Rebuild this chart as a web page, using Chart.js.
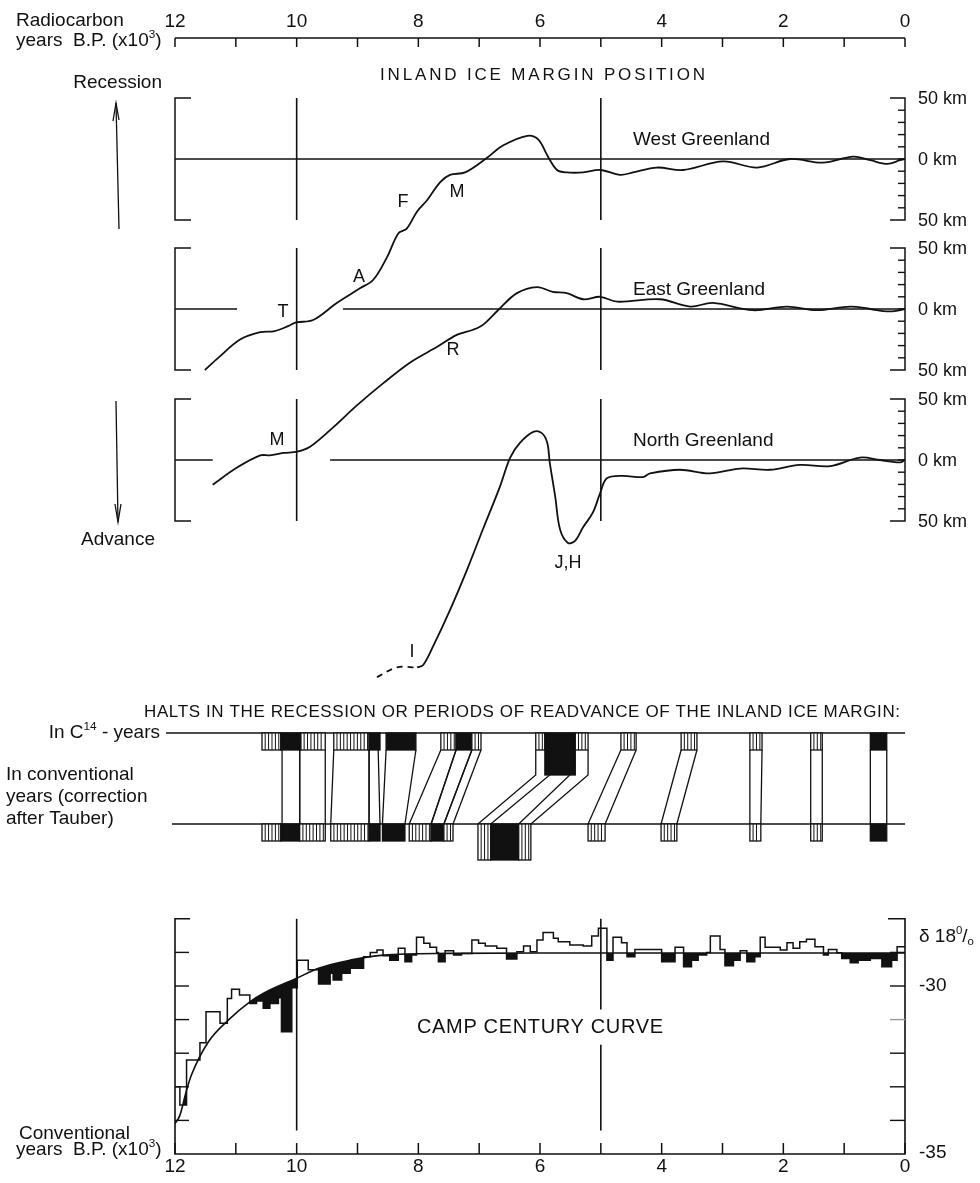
<!DOCTYPE html>
<html>
<head>
<meta charset="utf-8">
<script src="https://cdn.jsdelivr.net/npm/chart.js@4.4.1/dist/chart.umd.min.js"></script>
<style>
  html, body { margin: 0; padding: 0; background: #fff; }
  canvas { display: block; }
</style>
</head>
<body>
<canvas id="fig" width="980" height="1183"></canvas>
<script>
// ---------- data (years B.P. x1000) ----------
const yearTicks = [12, 10, 8, 6, 4, 2, 0];
const markerYears = [10, 5];

// inland ice margin position, km from present margin (+ = recession)
const westYears = [11.51, 11.29, 10.93, 10.60, 10.36, 10.14, 10.01, 9.73, 9.34, 8.96, 8.74, 8.51, 8.33, 8.19, 8.02, 7.86, 7.64, 7.48, 7.23, 6.87, 6.61, 6.21, 6.03, 5.87, 5.72, 5.56, 5.29, 5.01, 4.68, 4.47, 4.08, 3.65, 2.99, 2.43, 1.89, 1.35, 0.85, 0.57, 0.29, 0.08, 0.0];
const westKm = [-173, -163, -148, -142, -141, -137, -134, -132, -118, -106, -99, -80, -61, -57, -43, -34, -19, -13, -11, 1, 11, 19, 16, 2, -9, -11, -11, -9, -13, -11, -7, -9, -2, -7, 0, -3, 2, -1, -4, -1, 0];

const eastYears = [11.38, 10.98, 10.60, 10.44, 10.22, 9.99, 9.78, 9.40, 9.01, 8.58, 8.14, 7.69, 7.36, 7.10, 6.94, 6.69, 6.38, 6.05, 5.79, 5.56, 5.29, 5.01, 4.73, 4.03, 3.53, 3.16, 2.50, 1.94, 1.45, 0.90, 0.57, 0.29, 0.08, 0.0];
const eastKm = [-144, -130, -120, -120, -118, -117, -113, -97, -79, -61, -44, -31, -21, -17, -13, -1, 13, 18, 14, 13, 8, 10, 6, 8, 2, 5, -1, 2, -1, 2, 0, -2, -1, 0];

const northDashYears = [8.68, 8.35, 8.02];
const northDashKm = [-178, -170, -170];
const northYears = [8.02, 7.92, 7.76, 7.48, 7.20, 6.94, 6.66, 6.49, 6.33, 6.11, 5.97, 5.88, 5.84, 5.75, 5.67, 5.54, 5.42, 5.29, 5.13, 5.01, 4.90, 4.64, 4.31, 4.19, 3.70, 3.21, 2.71, 2.22, 1.73, 1.23, 0.74, 0.41, 0.08, 0.0];
const northKm = [-170, -168, -153, -123, -90, -57, -22, 2, 14, 23, 22, 14, -2, -30, -57, -68, -66, -55, -43, -27, -15, -13, -14, -11, -8, -11, -7, -8, -4, -5, 2, 0, -2, 0];

// zero lines of each panel (drawn pieces, in years)
const westZeroSegs = [[12, 0]];
const eastZeroSegs = [[12, 10.98], [9.24, 0]];
const northZeroSegs = [[12, 11.38], [9.45, 0]];

// halts: [from, to, kind]  h = hatched, b = black, capital = tall box
const c14Boxes = [
  [10.57, 10.26, 'h'], [10.26, 9.93, 'b'], [9.93, 9.53, 'h'],
  [9.39, 8.81, 'h'], [8.81, 8.63, 'b'],
  [8.53, 8.04, 'b'],
  [7.63, 7.38, 'h'], [7.38, 7.12, 'b'], [7.12, 6.97, 'h'],
  [6.07, 5.92, 'h'], [5.92, 5.42, 'B'], [5.42, 5.21, 'h'],
  [4.67, 4.42, 'h'], [3.68, 3.42, 'h'], [2.55, 2.35, 'h'], [1.55, 1.36, 'h'],
  [0.57, 0.30, 'b']
];
const convBoxes = [
  [10.57, 10.26, 'h'], [10.26, 9.95, 'b'], [9.95, 9.53, 'h'],
  [9.44, 8.81, 'h'], [8.81, 8.63, 'b'],
  [8.59, 8.22, 'b'],
  [8.15, 7.79, 'h'], [7.79, 7.58, 'b'], [7.58, 7.43, 'h'],
  [7.02, 6.81, 'H'], [6.81, 6.35, 'B'], [6.35, 6.15, 'H'],
  [5.21, 4.93, 'h'], [4.01, 3.75, 'h'], [2.55, 2.37, 'h'], [1.55, 1.36, 'h'],
  [0.57, 0.30, 'b']
];
// links C14 -> conventional: [c14 from, c14 to, conv from, conv to, tall]
const haltLinks = [
  [10.24, 9.95, 10.24, 9.95, 0], [9.95, 9.53, 9.95, 9.53, 0],
  [9.39, 8.81, 9.44, 8.81, 0], [8.81, 8.66, 8.81, 8.63, 0],
  [8.53, 8.04, 8.59, 8.22, 0],
  [7.63, 7.38, 8.15, 7.79, 0], [7.38, 7.12, 7.79, 7.58, 0], [7.12, 6.97, 7.58, 7.43, 0],
  [6.07, 5.84, 7.02, 6.81, 1], [5.51, 5.21, 6.35, 6.15, 1],
  [4.67, 4.42, 5.21, 4.93, 0], [3.68, 3.42, 4.01, 3.75, 0],
  [2.55, 2.35, 2.55, 2.37, 0], [1.55, 1.36, 1.55, 1.36, 0], [0.57, 0.30, 0.57, 0.30, 0]
];

// Camp Century d18O, step bins (left edges) and values
const stepEdges = [12.00, 11.92, 11.81, 11.59, 11.49, 11.26, 11.14, 11.07, 10.94, 10.77, 10.66, 10.55, 10.44, 10.30, 10.25, 10.08, 9.99, 9.81, 9.64, 9.45, 9.40, 9.26, 9.12, 8.90, 8.79, 8.68, 8.58, 8.47, 8.33, 8.22, 8.11, 8.03, 7.91, 7.81, 7.70, 7.67, 7.56, 7.42, 7.29, 7.12, 7.01, 6.90, 6.71, 6.55, 6.38, 6.27, 6.16, 6.05, 5.95, 5.78, 5.70, 5.51, 5.29, 5.15, 5.04, 4.90, 4.80, 4.66, 4.57, 4.44, 4.00, 3.78, 3.64, 3.51, 3.40, 3.26, 3.20, 3.04, 2.96, 2.82, 2.71, 2.60, 2.47, 2.38, 2.30, 2.05, 1.94, 1.84, 1.73, 1.62, 1.48, 1.34, 1.26, 1.12, 1.04, 0.90, 0.77, 0.57, 0.38, 0.22, 0.13, 0.00];
const stepValues = [-33.00, -33.54, -32.20, -31.69, -30.77, -31.11, -30.37, -30.10, -30.27, -30.52, -30.45, -30.66, -30.52, -30.35, -31.36, -30.05, -29.23, -29.52, -29.94, -29.62, -29.82, -29.62, -29.47, -29.13, -29.00, -28.93, -29.10, -29.23, -28.88, -29.28, -29.08, -28.55, -28.73, -28.85, -29.00, -29.28, -28.95, -29.08, -29.03, -28.63, -28.73, -28.81, -28.88, -29.20, -28.98, -28.81, -28.98, -28.63, -28.41, -28.58, -28.68, -28.78, -28.81, -28.51, -28.28, -29.23, -28.55, -28.71, -29.13, -28.91, -29.28, -28.85, -29.43, -29.23, -29.08, -29.00, -28.51, -28.91, -29.40, -29.23, -28.95, -29.28, -29.13, -28.55, -28.85, -28.93, -28.71, -28.88, -28.68, -28.61, -28.83, -29.08, -28.91, -29.01, -29.18, -29.31, -29.23, -29.18, -29.43, -29.23, -28.83];
const curveYears = [12.0, 11.92, 11.81, 11.73, 11.45, 11.12, 10.77, 10.55, 10.0, 9.64, 9.12, 8.58, 7.5, 6.0, 0.0];
const curveValues = [-34.1, -33.85, -33.1, -32.65, -31.66, -31.01, -30.47, -30.22, -29.77, -29.47, -29.23, -29.08, -29.03, -29.02, -29.02];
const d18Ticks = [-35, -34, -33, -32, -31, -30, -29, -28];

// ---------- layout ----------
const H = 1183;
const INK = '#111';
const FONT = '"Liberation Sans", Arial, sans-serif';
const KM_PX = 1.22;     // px per km in the ice margin panels
const D_PX = 33.6;      // px per permil

function kmAxis(zeroPx) {
  const max = zeroPx / KM_PX;
  return { type: 'linear', display: false, min: max - H / KM_PX, max: max };
}
const dMax = -35 + 1154 / D_PX;

const pts = (xs, ys) => xs.map((v, i) => ({ x: v, y: ys[i] }));
const stepPts = stepEdges.map((v, i) => ({ x: v, y: stepValues[Math.min(i, stepValues.length - 1)] }));

function seg(ctx, p, w, col) {
  ctx.beginPath();
  p.forEach((q, i) => i ? ctx.lineTo(q[0], q[1]) : ctx.moveTo(q[0], q[1]));
  ctx.lineWidth = w || 1.3;
  ctx.strokeStyle = col || INK;
  ctx.stroke();
}
function txt(ctx, s, x, y, size, align, spacing) {
  ctx.font = size + 'px ' + FONT;
  ctx.textAlign = align || 'left';
  ctx.textBaseline = 'middle';
  ctx.letterSpacing = (spacing || 0) + 'px';
  ctx.fillStyle = INK;
  ctx.fillText(s, x, y);
  ctx.letterSpacing = '0px';
}
// text stretched to a given width with letter spacing
function fitTxt(ctx, s, x, y, size, width) {
  ctx.font = size + 'px ' + FONT;
  ctx.letterSpacing = '0px';
  const w = ctx.measureText(s).width;
  txt(ctx, s, x, y, size, 'left', (width - w) / (s.length - 1));
}
// pieces with super/subscripts: [text, scale, dy]
function runs(ctx, parts, x, y, size, align) {
  let total = 0;
  parts.forEach(p => { ctx.font = (size * p[1]) + 'px ' + FONT; total += ctx.measureText(p[0]).width; });
  let cx = align === 'right' ? x - total : (align === 'center' ? x - total / 2 : x);
  ctx.textAlign = 'left';
  ctx.textBaseline = 'middle';
  ctx.fillStyle = INK;
  parts.forEach(p => {
    ctx.font = (size * p[1]) + 'px ' + FONT;
    ctx.fillText(p[0], cx, y + p[2]);
    cx += ctx.measureText(p[0]).width;
  });
}
function box(ctx, xa, xb, y0, y1, kind) {
  const l = Math.min(xa, xb), r = Math.max(xa, xb);
  if (kind === 'b' || kind === 'B') {
    ctx.fillStyle = INK;
    ctx.fillRect(l, y0, r - l, y1 - y0);
  } else {
    ctx.fillStyle = '#fff';
    ctx.fillRect(l, y0, r - l, y1 - y0);
    ctx.beginPath();
    for (let x = l + 3.2; x < r - 1; x += 3.4) { ctx.moveTo(x, y0); ctx.lineTo(x, y1); }
    ctx.lineWidth = 1;
    ctx.strokeStyle = INK;
    ctx.stroke();
  }
  ctx.lineWidth = 1.3;
  ctx.strokeStyle = INK;
  ctx.strokeRect(l, y0, r - l, y1 - y0);
}

const deco = {
  id: 'deco',
  beforeDraw(chart) {
    const ctx = chart.ctx;
    ctx.save();
    ctx.fillStyle = '#fff';
    ctx.fillRect(0, 0, chart.width, chart.height);
    ctx.restore();
  },
  beforeDatasetsDraw(chart) {
    const ctx = chart.ctx;
    const X = v => chart.scales.x.getPixelForValue(v);
    const L = X(12), R = X(0);
    ctx.save();
    ctx.lineCap = 'butt';

    // top axis (radiocarbon years)
    seg(ctx, [[L, 38], [R, 38]], 1.6);
    for (let v = 0; v <= 12; v++) seg(ctx, [[X(v), 38], [X(v), 47]], 1.5);

    // ice margin panels
    [['yW', westZeroSegs], ['yE', eastZeroSegs], ['yN', northZeroSegs]].forEach(([id, zeros]) => {
      const Y = v => chart.scales[id].getPixelForValue(v);
      seg(ctx, [[L + 16, Y(50)], [L, Y(50)], [L, Y(-50)], [L + 16, Y(-50)]], 1.5);
      seg(ctx, [[R - 15, Y(50)], [R, Y(50)], [R, Y(-50)], [R - 15, Y(-50)]], 1.5);
      for (let k = -40; k <= 40; k += 10) seg(ctx, [[R - 7, Y(k)], [R, Y(k)]], 1.4);
      zeros.forEach(s => seg(ctx, [[X(s[0]), Y(0)], [X(s[1]), Y(0)]], 1.4));
      markerYears.forEach(v => seg(ctx, [[X(v), Y(50)], [X(v), Y(-50)]], 1.6));
    });

    // recession / advance arrows
    seg(ctx, [[119, 229], [116, 103]], 1.3);
    seg(ctx, [[113, 121], [116, 103], [119, 120]], 1.3);
    seg(ctx, [[116, 401], [118, 522]], 1.3);
    seg(ctx, [[115, 504], [118, 522], [121, 504]], 1.3);

    // halts section
    const c14Y = 733, convY = 824, boxH = 17, tallC14 = 42, tallConv = 36;
    seg(ctx, [[166, c14Y], [R, c14Y]], 1.6);
    seg(ctx, [[172, convY], [R, convY]], 1.6);
    haltLinks.forEach(s => {
      [[s[0], s[2]], [s[1], s[3]]].forEach(([t, b]) => {
        const p = [[X(t), c14Y + boxH]];
        if (s[4]) p.push([X(t), c14Y + tallC14]);
        p.push([X(b), convY]);
        seg(ctx, p, 1.3);
      });
    });
    c14Boxes.forEach(b => box(ctx, X(b[0]), X(b[1]), c14Y, c14Y + (b[2] === 'B' ? tallC14 : boxH), b[2]));
    convBoxes.forEach(b => box(ctx, X(b[0]), X(b[1]), convY, convY + (b[2] === b[2].toUpperCase() ? tallConv : boxH), b[2]));

    // Camp Century frame
    const D = v => chart.scales.yD.getPixelForValue(v);
    seg(ctx, [[L + 15, D(-28)], [L, D(-28)], [L, D(-35)], [R, D(-35)], [R, D(-28)], [R - 17, D(-28)]], 1.6);
    d18Ticks.slice(1, -1).forEach(v => {
      seg(ctx, [[L, D(v)], [L + 14, D(v)]], 1.4);
      seg(ctx, [[R - 15, D(v)], [R, D(v)]], 1.4, v === -31 ? '#9a9a9a' : INK);
    });
    for (let v = 0; v <= 12; v++) seg(ctx, [[X(v), D(-35)], [X(v), D(-35) - 11]], 1.5);
    seg(ctx, [[X(10), D(-28)], [X(10), D(-34.3)]], 1.6);
    seg(ctx, [[X(5), D(-28)], [X(5), D(-30.7)]], 1.6);
    seg(ctx, [[X(5), D(-31.75)], [X(5), D(-34.3)]], 1.6);
    ctx.restore();
  },
  afterDatasetsDraw(chart) {
    const ctx = chart.ctx;
    const X = v => chart.scales.x.getPixelForValue(v);
    const R = X(0);
    ctx.save();
    // top axis labels
    txt(ctx, 'Radiocarbon', 16, 21, 19);
    runs(ctx, [['years  B.P. (x10', 1, 0], ['3', 0.62, -6], [')', 1, 0]], 16, 41, 19, 'left');
    yearTicks.forEach(v => txt(ctx, String(v), X(v), 22, 19, 'center'));

    fitTxt(ctx, 'INLAND ICE MARGIN POSITION', 380, 75, 17, 325);
    txt(ctx, 'Recession', 162, 83, 19, 'right');
    txt(ctx, 'Advance', 155, 540, 19, 'right');

    [['yW', 'West Greenland'], ['yE', 'East Greenland'], ['yN', 'North Greenland']].forEach(([id, name]) => {
      const Y = v => chart.scales[id].getPixelForValue(v);
      txt(ctx, name, 633, Y(0) - 19, 19);
      txt(ctx, '50 km', R + 13, Y(50) + 1, 18);
      txt(ctx, '0 km', R + 13, Y(0) + 1, 18);
      txt(ctx, '50 km', R + 13, Y(-50) + 1, 18);
    });
    [['F', 403, 202], ['M', 457, 192], ['A', 359, 277], ['T', 283, 312], ['R', 453, 350],
     ['M', 277, 440], ['J,H', 568, 563], ['I', 412, 652]].forEach(l => txt(ctx, l[0], l[1], l[2], 18, 'center'));

    // halts labels
    fitTxt(ctx, 'HALTS IN THE RECESSION OR PERIODS OF READVANCE OF THE INLAND ICE MARGIN:', 144, 712, 17, 756);
    runs(ctx, [['In C', 1, 0], ['14', 0.62, -6], [' - years', 1, 0]], 160, 733, 19, 'right');
    txt(ctx, 'In conventional', 6, 775, 19);
    txt(ctx, 'years (correction', 6, 797, 19);
    txt(ctx, 'after Tauber)', 6, 819, 19);

    // Camp Century labels
    fitTxt(ctx, 'CAMP CENTURY CURVE', 417, 1027, 20, 246);
    runs(ctx, [['\u03B4 18', 1, 0], ['0', 0.6, -6], ['/', 1, 0], ['o', 0.6, 5]], R + 14, 937, 19, 'left');
    const D = v => chart.scales.yD.getPixelForValue(v);
    txt(ctx, '-30', R + 14, D(-30), 19);
    txt(ctx, '-35', R + 14, D(-35) - 1, 19);
    txt(ctx, 'Conventional', 19, 1134, 19);
    runs(ctx, [['years  B.P. (x10', 1, 0], ['3', 0.62, -6], [')', 1, 0]], 16, 1150, 19, 'left');
    yearTicks.forEach(v => txt(ctx, String(v), X(v), 1167, 19, 'center'));
    ctx.restore();
  }
};

const lineStyle = { borderColor: INK, borderWidth: 1.8, pointRadius: 0, fill: false, tension: 0.35 };

new Chart(document.getElementById('fig'), {
  type: 'line',
  data: {
    datasets: [
      Object.assign({ label: 'West Greenland', data: pts(westYears, westKm), yAxisID: 'yW' }, lineStyle),
      Object.assign({ label: 'East Greenland', data: pts(eastYears, eastKm), yAxisID: 'yE' }, lineStyle),
      Object.assign({ label: 'North Greenland', data: pts(northYears, northKm), yAxisID: 'yN' }, lineStyle),
      Object.assign({ label: 'North Greenland (uncertain)', data: pts(northDashYears, northDashKm), yAxisID: 'yN' }, lineStyle, { borderDash: [6, 5] }),
      {
        label: 'Camp Century d18O', data: stepPts, yAxisID: 'yD', stepped: true,
        borderColor: INK, borderWidth: 1.5, pointRadius: 0,
        fill: { target: 5, above: 'rgba(0,0,0,0)', below: INK }
      },
      {
        label: 'trend', data: pts(curveYears, curveValues), yAxisID: 'yD',
        borderColor: INK, borderWidth: 1.6, pointRadius: 0, fill: false, cubicInterpolationMode: 'monotone'
      }
    ]
  },
  options: {
    responsive: false,
    animation: false,
    events: [],
    layout: { padding: { left: 175, right: 75, top: 0, bottom: 0 } },
    plugins: { legend: { display: false }, tooltip: { enabled: false }, title: { display: false } },
    scales: {
      x: { type: 'linear', min: 0, max: 12, reverse: true, display: false },
      yW: kmAxis(159),
      yE: kmAxis(309),
      yN: kmAxis(460),
      yD: { type: 'linear', display: false, min: dMax - H / D_PX, max: dMax }
    }
  },
  plugins: [deco]
});
</script>
</body>
</html>
